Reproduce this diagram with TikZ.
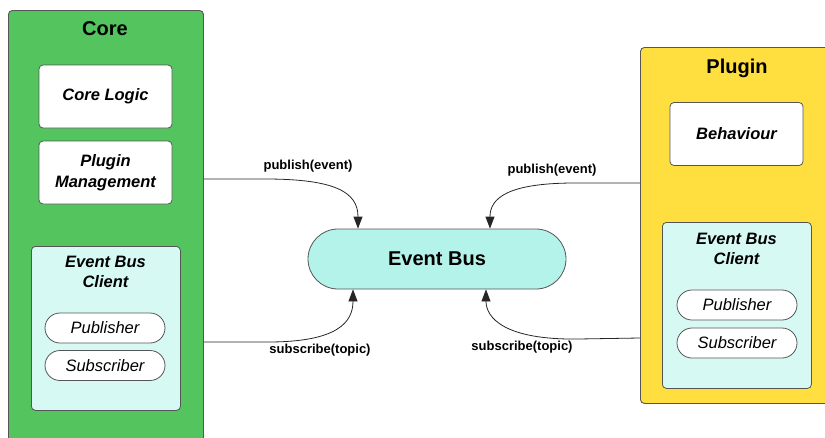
\documentclass[tikz,border=0pt]{standalone}
\usepackage{fontspec}
\setmainfont{Liberation Sans}
\usetikzlibrary{arrows.meta,positioning}
\definecolor{coregreen}{HTML}{54C45E}
\definecolor{plugyellow}{HTML}{FFDF40}
\definecolor{clientcyan}{HTML}{D7F9F4}
\definecolor{buscyan}{HTML}{B4F3EA}
\definecolor{edge}{HTML}{555555}
\tikzset{
  container/.style={draw=edge, line width=0.9pt, rounded corners=4pt, anchor=north west, inner sep=0pt},
  block/.style={draw=edge, line width=0.8pt, fill=white, rounded corners=4pt, inner sep=0pt,
    minimum width=133pt, minimum height=63pt, align=center,
    font=\fontsize{16.5}{21}\selectfont\bfseries\itshape},
  pill/.style={draw=edge, line width=0.8pt, fill=white, rounded corners=15pt, inner sep=0pt,
    minimum width=120pt, minimum height=30pt, font=\fontsize{16.5}{18}\selectfont\itshape},
  title/.style={font=\fontsize{20}{22}\selectfont\bfseries, inner sep=0pt},
  subtitle/.style={font=\fontsize{16.5}{20}\selectfont\bfseries\itshape, align=center, inner sep=0pt},
  msg/.style={font=\fontsize{13}{14}\selectfont\bfseries, inner sep=0pt},
  flow/.style={draw=black!85, line width=0.8pt, -{Triangle[length=12pt,width=9pt]}}
}
\begin{document}
\begin{tikzpicture}[x=1pt,y=-1pt]
\useasboundingbox (0,0) rectangle (825,437);
\clip (0,0) rectangle (825,437);

% Core container
\node[container, fill=coregreen, minimum width=195pt, minimum height=450pt] (core) at (8,10) {};
\node[title] (coretitle) at (105,29) {Core};
\node[block] (logic) at (105.5,96.5) {Core Logic};
\node[block] (mgmt) at (105.5,172.5) {Plugin\\Management};
\node[container, fill=clientcyan, line width=0.8pt, minimum width=149pt, minimum height=164pt] (cclient) at (31,246) {};
\node[subtitle] (cclienttitle) at (105.5,272) {Event Bus\\Client};
\node[pill] (cpub) at (105,328) {Publisher};
\node[pill] (csub) at (105,365.5) {Subscriber};

% Plugin container
\node[container, fill=plugyellow, minimum width=220pt, minimum height=356pt] (plugin) at (640,47) {};
\node[title] (plugintitle) at (737,68) {Plugin};
\node[block] (behaviour) at (736.5,134) {Behaviour};
\node[container, fill=clientcyan, line width=0.8pt, minimum width=149pt, minimum height=166pt] (pclient) at (662,222) {};
\node[subtitle] (pclienttitle) at (736.5,249) {Event Bus\\Client};
\node[pill] (ppub) at (737,305) {Publisher};
\node[pill] (psub) at (737,343) {Subscriber};

% Central bus
\node[draw=edge, line width=0.8pt, fill=buscyan, rounded corners=30pt, minimum width=258pt,
  minimum height=60pt, inner sep=0pt, font=\fontsize{20}{22}\selectfont\bfseries] (bus) at (437,259) {Event Bus};

% Connector end points on the container borders
\coordinate (cpubout) at (core.north east |- 0,179);
\coordinate (csubout) at (core.north east |- 0,342);
\coordinate (ppubout) at (plugin.north west |- 0,183);
\coordinate (psubout) at (plugin.north west |- 0,338);
\coordinate (buscin) at (bus.north west -| 358,0);
\coordinate (buscout) at (bus.south west -| 353,0);
\coordinate (buspin) at (bus.north west -| 490,0);
\coordinate (buspout) at (bus.south west -| 486,0);

\draw[flow] (cpubout) -- (265,179) .. controls (335,179) and (358,192) .. (buscin);
\draw[flow] (csubout) -- (268,342) .. controls (338,342) and (353,322) .. (buscout);
\draw[flow] (ppubout) -- (575,183) .. controls (508,183) and (490,198) .. (buspin);
\draw[flow] (psubout) -- (578,339) .. controls (505,340) and (486,318) .. (buspout);

\node[msg] (lcpub) at (308,166) {publish(event)};
\node[msg] (lcsub) at (320,350) {subscribe(topic)};
\node[msg] (lppub) at (552,170) {publish(event)};
\node[msg] (lpsub) at (522,347) {subscribe(topic)};
\end{tikzpicture}
\end{document}
